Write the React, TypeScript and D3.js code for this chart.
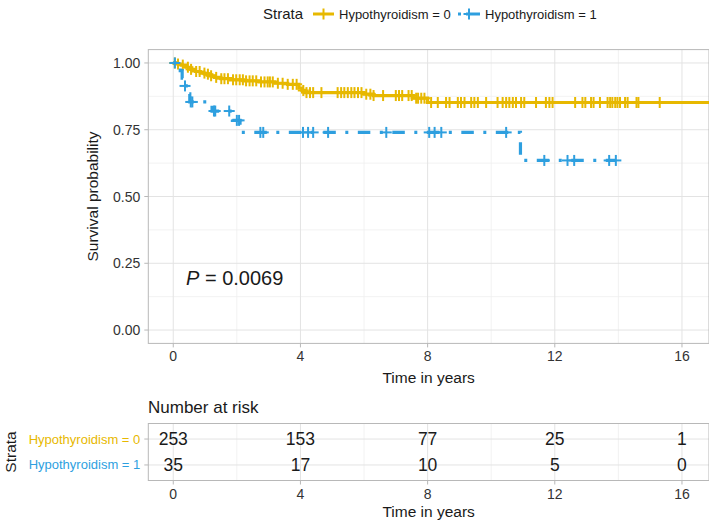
import React from "react";
import * as d3 from "d3";

// ---------- data ----------
const STRATA = ["Hypothyroidism = 0", "Hypothyroidism = 1"];
const COLORS = ["#E7B800", "#2E9FDF"];

const X_TICKS = [0, 4, 8, 12, 16];
const Y_TICKS = [0, 0.25, 0.5, 0.75, 1];
const Y_LABELS = ["0.00", "0.25", "0.50", "0.75", "1.00"];

// Kaplan-Meier step changes (time, survival after step)
const yellowTimes = [0, 0.12, 0.25, 0.4, 0.55, 0.7, 0.85, 1.0, 1.15, 1.3, 1.5, 1.8, 2.2, 2.7, 3.2, 3.6, 3.95, 4.05, 4.15, 6.0, 6.3, 7.55, 8.0, 16.85];
const yellowSurv = [1, 0.996, 0.992, 0.984, 0.976, 0.968, 0.962, 0.958, 0.952, 0.946, 0.941, 0.937, 0.933, 0.929, 0.924, 0.92, 0.906, 0.897, 0.889, 0.883, 0.878, 0.868, 0.852, 0.852];
const yellowCensor = [0.05, 0.15, 0.3, 0.46, 0.56, 0.72, 0.83, 0.98, 1.09, 1.19, 1.35, 1.51, 1.61, 1.72, 1.88, 1.98, 2.09, 2.19, 2.29, 2.4, 2.5, 2.61, 2.76, 2.87, 2.97, 3.04, 3.13, 3.29, 3.44, 3.6, 3.76, 3.88, 4.09, 4.19, 4.3, 4.4, 4.66, 5.17, 5.28, 5.38, 5.49, 5.6, 5.7, 5.81, 5.92, 6.07, 6.2, 6.3, 6.6, 7.0, 7.1, 7.2, 7.4, 7.5, 7.64, 7.7, 7.8, 7.9, 8.11, 8.32, 8.58, 8.69, 8.95, 9.05, 9.16, 9.37, 9.47, 9.58, 9.84, 10.2, 10.36, 10.47, 10.57, 10.68, 10.78, 10.94, 11.04, 11.41, 11.72, 11.83, 11.93, 12.64, 12.87, 12.96, 13.14, 13.22, 13.42, 13.66, 13.74, 13.81, 13.9, 13.97, 14.05, 14.21, 14.29, 14.57, 14.63, 15.3];

const blueTimes = [0, 0.22, 0.28, 0.33, 0.5, 0.52, 1.22, 1.86, 2.1, 10.92, 13.92];
const blueSurv = [1, 0.971, 0.943, 0.914, 0.884, 0.854, 0.82, 0.785, 0.74, 0.635, 0.635];
const blueCensor = [0.05, 0.37, 0.55, 0.6, 1.28, 1.32, 1.76, 2.0, 2.07, 2.74, 2.83, 4.08, 4.24, 4.4, 4.87, 6.7, 8.05, 8.22, 8.43, 10.47, 11.67, 12.4, 12.61, 13.71, 13.92];

const RISK0 = [253, 153, 77, 25, 1];
const RISK1 = [35, 17, 10, 5, 0];
const P_VALUE = "0.0069";

// ---------- layout ----------
const W = 709, H = 522;
const PL = 148.3, PR = 709, PT = 49.6, PB = 343.4;
const RT = 423.5, RB = 480.5;
const FONT = "'Liberation Sans', Arial, Helvetica, sans-serif";
const GRID = "#e3e3e3";
const GRID_MINOR = "#efefef";
const BORDER = "#b8b8b8";
const DASH = "3 9.5 12.5 9.5";

function stepAt(times: number[], surv: number[], t: number) {
  let s = surv[0];
  for (let i = 0; i < times.length; i++) if (times[i] <= t) s = surv[i];
  return s;
}

export default function App() {
  const x = d3.scaleLinear().domain([-0.785, 16.85]).range([PL, PR]);
  const y = d3.scaleLinear().domain([-0.05, 1.05]).range([PB, PT]);
  const yr = d3.scaleLinear().domain([0.4, 2.6]).range([RT, RB]);

  const line = d3
    .line<[number, number]>()
    .x((d) => x(d[0]))
    .y((d) => y(d[1]))
    .curve(d3.curveStepAfter);

  const series = [
    { times: yellowTimes, surv: yellowSurv, censor: yellowCensor, color: COLORS[0], dash: undefined as string | undefined },
    { times: blueTimes, surv: blueSurv, censor: blueCensor, color: COLORS[1], dash: DASH },
  ];

  const xMinor = [2, 6, 10, 14];
  const yMinor = [0.125, 0.375, 0.625, 0.875];
  const cs = 5.5; // censor half-size

  const plus = (cx: number, cy: number, color: string, key: string) => (
    <g key={key} stroke={color} strokeWidth={2}>
      <line x1={cx - cs} x2={cx + cs} y1={cy} y2={cy} />
      <line x1={cx} x2={cx} y1={cy - cs} y2={cy + cs} />
    </g>
  );

  const risks = [RISK0, RISK1];

  return (
    <svg width={W} height={H} style={{ position: "absolute", left: 0, top: 0, background: "#fff" }} fontFamily={FONT}>
      {/* legend */}
      <g>
        <text x={263} y={19} fontSize={15} fill="#1a1a1a">Strata</text>
        <line x1={313} x2={334} y1={14} y2={14} stroke={COLORS[0]} strokeWidth={3} />
        {plus(323.5, 14, COLORS[0], "lg0")}
        <text x={339} y={18.5} fontSize={13} fill="#1a1a1a">{STRATA[0]}</text>
        <line x1={458} x2={480} y1={14} y2={14} stroke={COLORS[1]} strokeWidth={3} strokeDasharray="3 5 14 0" />
        {plus(469, 14, COLORS[1], "lg1")}
        <text x={485} y={18.5} fontSize={13} fill="#1a1a1a">{STRATA[1]}</text>
      </g>

      {/* main panel grid */}
      <g>
        {xMinor.map((t) => (
          <line key={"xm" + t} x1={x(t)} x2={x(t)} y1={PT} y2={PB} stroke={GRID_MINOR} strokeWidth={0.8} />
        ))}
        {yMinor.map((v) => (
          <line key={"ym" + v} x1={PL} x2={PR} y1={y(v)} y2={y(v)} stroke={GRID_MINOR} strokeWidth={0.8} />
        ))}
        {X_TICKS.map((t) => (
          <line key={"xg" + t} x1={x(t)} x2={x(t)} y1={PT} y2={PB} stroke={GRID} strokeWidth={1} />
        ))}
        {Y_TICKS.map((v) => (
          <line key={"yg" + v} x1={PL} x2={PR} y1={y(v)} y2={y(v)} stroke={GRID} strokeWidth={1} />
        ))}
        <rect x={PL} y={PT} width={PR - PL} height={PB - PT} fill="none" stroke={BORDER} strokeWidth={1} />
      </g>

      {/* curves */}
      {series.map((s, i) => {
        const pts: [number, number][] = s.times.map((t, k) => [t, s.surv[k]]);
        return (
          <g key={"s" + i}>
            <path d={line(pts) || ""} fill="none" stroke={s.color} strokeWidth={3.2} strokeDasharray={s.dash} />
            {s.censor.map((t, k) => plus(x(t), y(stepAt(s.times, s.surv, t)), s.color, "c" + i + "_" + k))}
          </g>
        );
      })}

      {/* axes */}
      {Y_TICKS.map((v, i) => (
        <g key={"yt" + v}>
          <line x1={PL - 4} x2={PL} y1={y(v)} y2={y(v)} stroke={BORDER} />
          <text x={PL - 8} y={y(v) + 5} fontSize={14} fill="#333" textAnchor="end">{Y_LABELS[i]}</text>
        </g>
      ))}
      {X_TICKS.map((t) => (
        <g key={"xt" + t}>
          <line x1={x(t)} x2={x(t)} y1={PB} y2={PB + 4} stroke={BORDER} />
          <text x={x(t)} y={PB + 18} fontSize={14} fill="#333" textAnchor="middle">{t}</text>
        </g>
      ))}
      <text x={(PL + PR) / 2} y={383} fontSize={15.5} fill="#1a1a1a" textAnchor="middle">Time in years</text>
      <text transform={`translate(98,${(PT + PB) / 2}) rotate(-90)`} fontSize={15.5} fill="#1a1a1a" textAnchor="middle">Survival probability</text>

      <text x={186} y={285} fontSize={20} fill="#1a1a1a">
        <tspan fontStyle="italic">P</tspan>
        <tspan> = {P_VALUE}</tspan>
      </text>

      {/* risk table */}
      <text x={148} y={413} fontSize={17} fill="#1a1a1a">Number at risk</text>
      <g>
        {xMinor.map((t) => (
          <line key={"rxm" + t} x1={x(t)} x2={x(t)} y1={RT} y2={RB} stroke={GRID_MINOR} strokeWidth={0.8} />
        ))}
        {X_TICKS.map((t) => (
          <line key={"rxg" + t} x1={x(t)} x2={x(t)} y1={RT} y2={RB} stroke={GRID} strokeWidth={1} />
        ))}
        {[1, 2].map((r) => (
          <line key={"ryg" + r} x1={PL} x2={PR} y1={yr(r)} y2={yr(r)} stroke={GRID} strokeWidth={1} />
        ))}
        <rect x={PL} y={RT} width={PR - PL} height={RB - RT} fill="none" stroke={BORDER} strokeWidth={1} />
      </g>
      {risks.map((arr, r) =>
        arr.map((v, k) => (
          <text key={"rv" + r + "_" + k} x={x(X_TICKS[k])} y={yr(r + 1) + 6} fontSize={17.5} fill="#1a1a1a" textAnchor="middle">{v}</text>
        ))
      )}
      {STRATA.map((s, r) => (
        <g key={"rl" + r}>
          <line x1={PL - 4} x2={PL} y1={yr(r + 1)} y2={yr(r + 1)} stroke={BORDER} />
          <text x={PL - 8} y={yr(r + 1) + 4.5} fontSize={13} fill={COLORS[r]} textAnchor="end">{s}</text>
        </g>
      ))}
      {X_TICKS.map((t) => (
        <g key={"rxt" + t}>
          <line x1={x(t)} x2={x(t)} y1={RB} y2={RB + 4} stroke={BORDER} />
          <text x={x(t)} y={RB + 18} fontSize={14} fill="#333" textAnchor="middle">{t}</text>
        </g>
      ))}
      <text x={(PL + PR) / 2} y={517} fontSize={15.5} fill="#1a1a1a" textAnchor="middle">Time in years</text>
      <text transform={`translate(16,${(RT + RB) / 2}) rotate(-90)`} fontSize={15.5} fill="#1a1a1a" textAnchor="middle">Strata</text>
    </svg>
  );
}
